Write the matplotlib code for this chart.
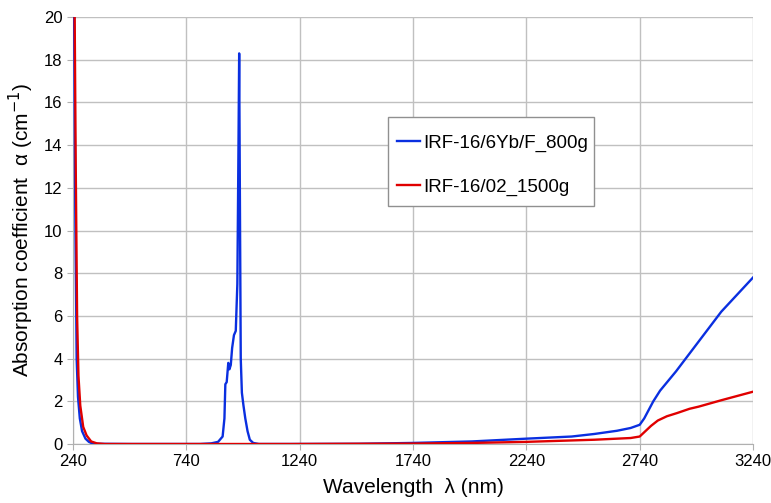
import matplotlib.pyplot as plt
from matplotlib.patches import Rectangle

plt.rcParams["font.family"] = ["Liberation Sans", "DejaVu Sans"]

# IRF-16/6Yb/F_800g (blue)
wl_blue = [240, 245, 250, 256, 262, 270, 280, 295, 310, 325, 350, 500, 800, 850, 880,
           900, 908, 912, 918, 925, 930, 936, 942, 950, 958, 965, 970, 973, 976,
           980, 985, 992, 1000, 1010, 1020, 1035, 1060, 1200, 1500, 1740, 2000,
           2240, 2440, 2540, 2640, 2700, 2740, 2760, 2780, 2800, 2830, 2900, 3000,
           3100, 3240]
ab_blue = [40, 20, 11, 4.0, 2.2, 1.2, 0.6, 0.25, 0.1, 0.03, 0.01, 0.0, 0.0, 0.03, 0.1,
           0.35, 1.2, 2.8, 2.9, 3.8, 3.5, 3.7, 4.5, 5.1, 5.3, 7.5, 14.0, 18.3, 12.0,
           4.0, 2.4, 1.8, 1.2, 0.6, 0.2, 0.05, 0.0, 0.0, 0.01, 0.05, 0.12,
           0.25, 0.35, 0.47, 0.62, 0.75, 0.9, 1.2, 1.6, 2.0, 2.5, 3.4, 4.8,
           6.2, 7.8]

# IRF-16/02_1500g (red)
wl_red = [240, 246, 252, 258, 264, 272, 285, 300, 320, 345, 380, 600, 1200, 1740,
          2000, 2240, 2540, 2700, 2740, 2760, 2790, 2820, 2860, 2905, 2960, 3000,
          3100, 3240]
ab_red = [40, 22, 13, 6.0, 3.2, 1.8, 0.8, 0.4, 0.12, 0.03, 0.0, 0.0, 0.0, 0.02,
          0.05, 0.1, 0.2, 0.28, 0.35, 0.55, 0.85, 1.1, 1.3, 1.45, 1.65, 1.75,
          2.05, 2.45]

x_ticks = [240, 740, 1240, 1740, 2240, 2740, 3240]
y_ticks = list(range(0, 21, 2))

fig = plt.figure(figsize=(7.71, 5.03), dpi=100)
ax = fig.add_axes([0.0947, 0.1173, 0.882, 0.8487])

ax.plot(wl_blue, ab_blue, color="#0a2fe0", lw=1.7, label="IRF-16/6Yb/F_800g", zorder=3)
ax.plot(wl_red, ab_red, color="#e00000", lw=1.7, label="IRF-16/02_1500g", zorder=3)

ax.set_xlim(240, 3240)
ax.set_ylim(0, 20)
ax.set_xticks(x_ticks)
ax.set_yticks(y_ticks)
ax.grid(True, color="#c0c0c0", lw=1)
ax.set_axisbelow(True)
for s in ["top", "right"]:
    ax.spines[s].set_visible(False)
for s in ["left", "bottom"]:
    ax.spines[s].set_color("#b0b0b0")
ax.tick_params(axis="both", colors="#b0b0b0", labelcolor="black", labelsize=12, length=4)

ax.set_xlabel("Wavelength  λ (nm)", fontsize=15, labelpad=6)
ax.set_ylabel("Absorption coefficient  α (cm$^{-1}$)", fontsize=15, labelpad=6)

# legend box drawn separately to get the padding right
ax.add_patch(Rectangle((0.463, 0.557), 0.303, 0.209, transform=ax.transAxes,
                       facecolor="white", edgecolor="#909090", lw=1, zorder=4))
leg = ax.legend(loc="upper left", bbox_to_anchor=(0.463, 0.747), borderaxespad=0,
                fontsize=13.5, frameon=False, handlelength=1.2,
                handletextpad=0.2, labelspacing=1.44, borderpad=0.5)
leg.set_zorder(5)

plt.savefig("out.png", dpi=100)
